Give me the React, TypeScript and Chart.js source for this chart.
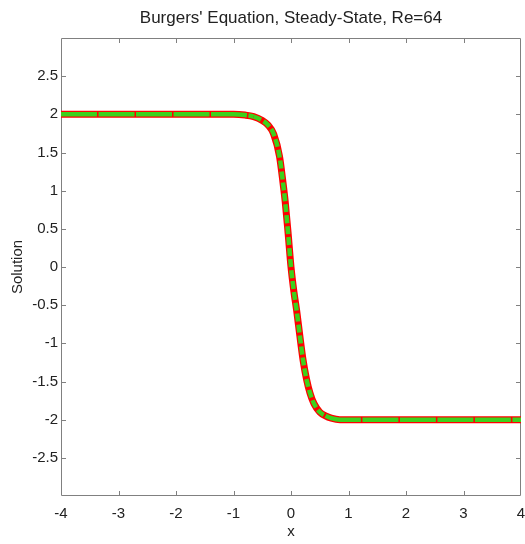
import React, { useEffect, useRef } from "react";
import { Chart, registerables } from "chart.js";

Chart.register(...registerables);

const xValues = [-4, -3, -2, -1.5, -1, -0.8, -0.65, -0.5, -0.4, -0.3, -0.2, -0.14, -0.1, -0.05, 0, 0.05, 0.1, 0.15, 0.21, 0.27, 0.33, 0.4, 0.5, 0.6, 0.7, 0.85, 1, 1.5, 2, 3, 4];
const exactSolution = [2, 2, 2, 2, 2, 1.99, 1.97, 1.92, 1.86, 1.74, 1.45, 1.11, 0.85, 0.44, 0.0, -0.32, -0.58, -0.88, -1.22, -1.47, -1.65, -1.79, -1.9, -1.95, -1.98, -2, -2, -2, -2, -2, -2];
const numericSolution = [2, 2, 2, 2, 2, 1.99, 1.97, 1.92, 1.86, 1.74, 1.45, 1.11, 0.85, 0.44, 0.0, -0.32, -0.58, -0.88, -1.22, -1.47, -1.65, -1.79, -1.9, -1.95, -1.98, -2, -2, -2, -2, -2, -2];
const xTicks = [-4, -3, -2, -1, 0, 1, 2, 3, 4];
const yTicks = [-2.5, -2, -1.5, -1, -0.5, 0, 0.5, 1, 1.5, 2, 2.5];

const FONT = "'Liberation Sans', Arial, Helvetica, sans-serif";
const AXIS_GRAY = "#808080";

const boxPlugin = {
  id: "matlabBox",
  beforeDatasetsDraw(chart: any) {
    const { ctx, chartArea } = chart;
    const { left, right, top, bottom } = chartArea;
    const xs = chart.scales.x;
    const ys = chart.scales.y;
    const L = 5;
    ctx.save();
    ctx.strokeStyle = AXIS_GRAY;
    ctx.lineWidth = 1;
    ctx.beginPath();
    ctx.rect(Math.round(left) + 0.5, Math.round(top) + 0.5, Math.round(right - left) - 1, Math.round(bottom - top) - 1);
    ctx.stroke();
    ctx.beginPath();
    xTicks.forEach((v) => {
      const px = Math.round(xs.getPixelForValue(v)) + 0.5;
      if (px <= left + 1 || px >= right - 1) return;
      ctx.moveTo(px, bottom);
      ctx.lineTo(px, bottom - L);
      ctx.moveTo(px, top);
      ctx.lineTo(px, top + L);
    });
    yTicks.forEach((v) => {
      const py = Math.round(ys.getPixelForValue(v)) + 0.5;
      ctx.moveTo(left, py);
      ctx.lineTo(left + L, py);
      ctx.moveTo(right, py);
      ctx.lineTo(right - L, py);
    });
    ctx.stroke();
    ctx.restore();
  },
};

export default function App() {
  const ref = useRef<HTMLCanvasElement | null>(null);
  useEffect(() => {
    if (!ref.current) return;
    const chart = new Chart(ref.current, {
      type: "line",
      data: {
        datasets: [
          {
            label: "Numerical",
            data: xValues.map((x, i) => ({ x, y: numericSolution[i] })),
            borderColor: "#3cd21c",
            borderWidth: 4.5,
            pointRadius: 0,
            cubicInterpolationMode: "monotone",
            fill: false,
            segment: {
              borderDash: (c: any) =>
                Math.abs(c.p1.parsed.y - c.p0.parsed.y) > 0.05 ? [8, 3] : [36, 1.5],
            },
          } as any,
          {
            label: "Exact",
            data: xValues.map((x, i) => ({ x, y: exactSolution[i] })),
            borderColor: "#ff0000",
            borderWidth: 7,
            pointRadius: 0,
            cubicInterpolationMode: "monotone",
            fill: false,
          } as any,
        ],
      },
      options: {
        animation: false,
        responsive: false,
        layout: { padding: { left: 0, right: 4, top: 0, bottom: 0 } },
        plugins: {
          legend: { display: false },
          tooltip: { enabled: false },
          title: {
            display: true,
            fullSize: false,
            text: "Burgers' Equation, Steady-State, Re=64",
            color: "#222",
            font: { family: FONT, size: 17, weight: "normal" },
            padding: { top: 8.5, bottom: 9.1 },
          },
        },
        scales: {
          x: {
            type: "linear",
            min: -4,
            max: 4,
            afterBuildTicks: (s: any) => {
              s.ticks = xTicks.map((v) => ({ value: v }));
            },
            afterFit: (s: any) => {
              s.height = 48;
              s.paddingLeft = 0;
              s.paddingRight = 0;
            },
            grid: { display: false, drawTicks: false },
            border: { display: false },
            ticks: {
              color: "#222",
              font: { family: FONT, size: 15 },
              padding: 9,
              maxRotation: 0,
              autoSkip: false,
              callback: (v: any) => String(v),
            },
            title: {
              display: true,
              text: "x",
              color: "#222",
              font: { family: FONT, size: 15 },
              padding: { top: 0, bottom: 3 },
            },
          },
          y: {
            type: "linear",
            min: -3,
            max: 3,
            afterBuildTicks: (s: any) => {
              s.ticks = yTicks.map((v) => ({ value: v }));
            },
            afterFit: (s: any) => {
              s.width = 61;
              s.paddingTop = 0;
              s.paddingBottom = 0;
            },
            grid: { display: false, drawTicks: false },
            border: { display: false },
            ticks: {
              color: "#222",
              font: { family: FONT, size: 15 },
              padding: 3,
              autoSkip: false,
              callback: (v: any) => String(v),
            },
            title: {
              display: true,
              text: "Solution",
              color: "#222",
              font: { family: FONT, size: 15 },
              padding: { top: 9, bottom: 0 },
            },
          },
        },
      },
      plugins: [boxPlugin],
    });
    return () => chart.destroy();
  }, []);
  return (
    <div style={{ position: "absolute", left: 0, top: 0, width: 525, height: 544, background: "#fff" }}>
      <canvas ref={ref} width={525} height={544} style={{ display: "block" }} />
    </div>
  );
}
